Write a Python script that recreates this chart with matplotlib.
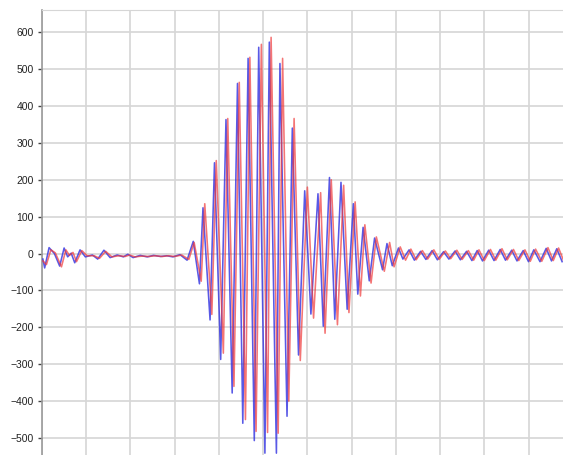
import matplotlib
matplotlib.use("Agg")
import matplotlib.pyplot as plt

plt.rcParams["font.family"] = ["Liberation Sans", "DejaVu Sans"]

# channel A (blue): turning points of the trace, time in samples
blue_t = [1, 3, 8, 14, 20, 25, 29, 33, 37, 43, 49, 57, 63, 70, 77, 85, 92, 97,
          103, 111, 119, 126, 134, 141, 148, 156, 164, 171, 178, 182, 190, 195,
          202, 208, 215, 221, 227, 233, 240, 245, 252, 257, 265, 269, 277, 283,
          290, 297, 304, 312, 318, 325, 331, 338, 345, 352, 357, 363, 370, 376,
          385, 390, 396, 403, 408, 415, 421, 428, 434, 441, 447, 454, 460, 467,
          473, 480, 486, 492, 498, 505, 511, 518, 524, 531, 537, 544, 550, 556,
          563, 570, 576, 582, 588]
blue_v = [-15, -39, 16, 0, -34, 15, -9, 1, -25, 10, -9, -4, -15, 9, -11, -4, -9,
          -2, -11, -5, -9, -5, -8, -6, -9, -3, -18, 33, -82, 124, -180, 246,
          -287, 363, -378, 461, -460, 529, -507, 559, -541, 573, -541, 515, -441,
          340, -275, 170, -164, 162, -197, 206, -178, 193, -151, 135, -110, 71,
          -74, 42, -44, 27, -33, 15, -15, 10, -18, 6, -16, 8, -17, 5, -15, 7,
          -17, 6, -19, 8, -20, 9, -19, 11, -18, 9, -20, 8, -22, 10, -22, 14,
          -20, 13, -22]

# channel B (red): same event, recorded slightly later
red_t = [1, 5, 10, 15, 22, 27, 31, 35, 39, 45, 51, 59, 65, 72, 79, 87, 94, 99,
         105, 113, 121, 128, 136, 143, 150, 158, 166, 172, 180, 184, 192, 197,
         205, 210, 217, 223, 230, 235, 242, 248, 255, 259, 267, 272, 279, 285,
         292, 300, 307, 315, 320, 327, 334, 341, 347, 354, 360, 365, 372, 378,
         387, 393, 398, 405, 411, 417, 423, 430, 436, 443, 449, 456, 462, 469,
         475, 482, 488, 494, 500, 507, 513, 520, 526, 533, 539, 546, 552, 558,
         565, 572, 578, 584, 590]
red_v = [-20, -30, 10, 2, -36, 10, -5, 3, -22, 8, -6, -6, -13, 6, -9, -6, -8,
         -4, -9, -7, -8, -6, -8, -6, -8, -4, -16, 30, -75, 135, -165, 252,
         -270, 366, -360, 464, -450, 532, -482, 567, -485, 586, -487, 529, -400,
         366, -290, 180, -175, 165, -216, 200, -193, 185, -160, 140, -115, 78,
         -80, 45, -48, 30, -36, 18, -18, 12, -17, 8, -15, 10, -16, 7, -14, 9,
         -16, 8, -18, 10, -19, 11, -18, 13, -17, 11, -19, 10, -21, 12, -21, 16,
         -19, 15, -21]

y_ticks = list(range(-500, 601, 100))
x_grid = list(range(0, 551, 50))

fig = plt.figure(figsize=(5.63, 4.55), dpi=100)
ax = fig.add_axes([0.0746, 0.0, 0.9254, 0.978])

ax.plot(blue_t, blue_v, color="#3030e0", lw=1.15, alpha=0.8, zorder=3,
        solid_joinstyle="round")
ax.plot(red_t, red_v, color="#f03a3a", lw=1.15, alpha=0.7, zorder=3,
        solid_joinstyle="round")

ax.set_xlim(0, 589)
ax.set_ylim(-546, 660)
ax.set_yticks(y_ticks)
ax.set_xticks(x_grid)
ax.set_xticklabels([])
ax.tick_params(axis="x", length=0)
ax.tick_params(axis="y", length=3, width=1, pad=3, color="#444444",
               labelsize=7.5, labelcolor="#222222")
ax.grid(True, color="#d6d6d6", lw=1.2)
ax.set_axisbelow(True)

ax.spines["left"].set_color("#9a9a9a")
ax.spines["left"].set_linewidth(1.2)
ax.spines["top"].set_color("#d6d6d6")
ax.spines["right"].set_visible(False)
ax.spines["bottom"].set_visible(False)

fig.savefig("out.png", dpi=100)
